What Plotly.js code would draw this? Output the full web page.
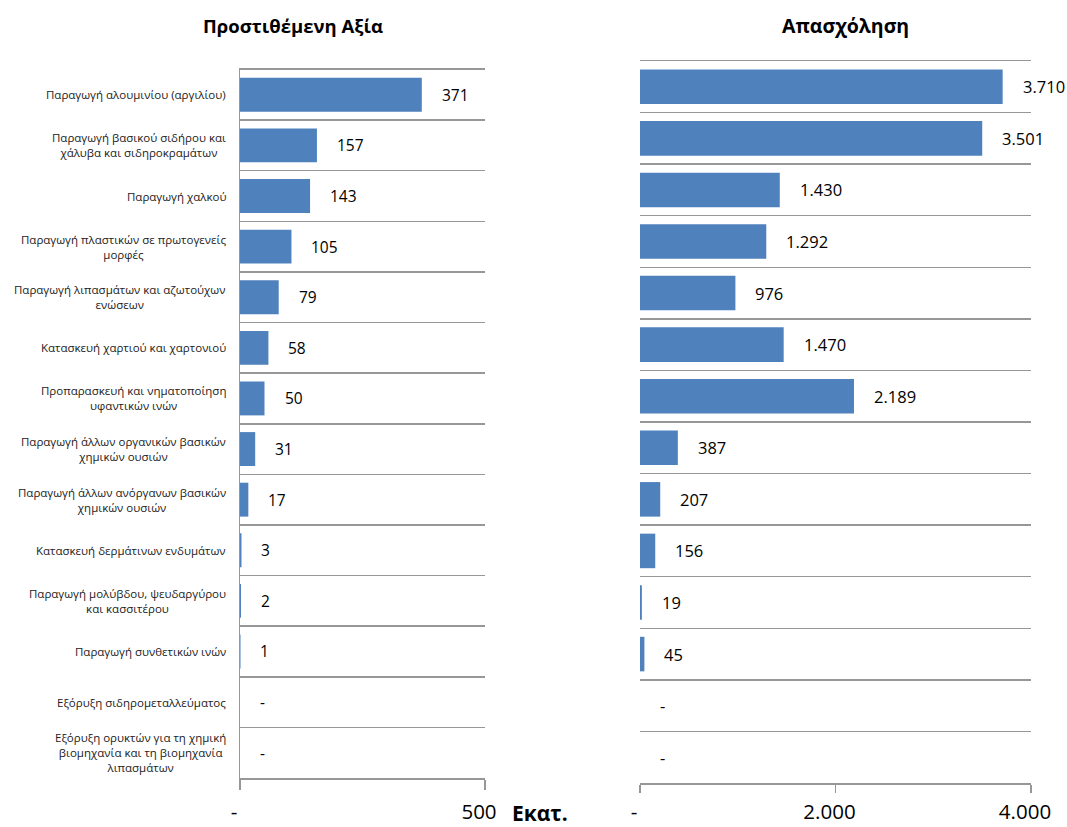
<!DOCTYPE html>
<html>
<head>
<meta charset="utf-8">
<script src="https://cdn.plot.ly/plotly-3.0.1.min.js"></script>
<style>html,body{margin:0;padding:0;background:#fff;}#chart{width:1067px;height:827px;}</style>
</head>
<body>
<div id="chart"></div>
<script>
// ---- data ----
const categories = [
  "Παραγωγή αλουμινίου (αργιλίου)",
  "Παραγωγή βασικού σιδήρου και<br>χάλυβα και σιδηροκραμάτων",
  "Παραγωγή χαλκού",
  "Παραγωγή πλαστικών σε πρωτογενείς<br>μορφές",
  "Παραγωγή λιπασμάτων και αζωτούχων<br>ενώσεων",
  "Κατασκευή χαρτιού και χαρτονιού",
  "Προπαρασκευή και νηματοποίηση<br>υφαντικών ινών",
  "Παραγωγή άλλων οργανικών βασικών<br>χημικών ουσιών",
  "Παραγωγή άλλων ανόργανων βασικών<br>χημικών ουσιών",
  "Κατασκευή δερμάτινων ενδυμάτων",
  "Παραγωγή μολύβδου, ψευδαργύρου<br>και κασσιτέρου",
  "Παραγωγή συνθετικών ινών",
  "Εξόρυξη σιδηρομεταλλεύματος",
  "Εξόρυξη ορυκτών για τη χημική<br>βιομηχανία και τη βιομηχανία<br>λιπασμάτων"
];
const addedValue = [371, 157, 143, 105, 79, 58, 50, 31, 17, 3, 2, 1, 0, 0];
const employment = [3710, 3501, 1430, 1292, 976, 1470, 2189, 387, 207, 156, 19, 45, 0, 0];

const titleLeft = "Προστιθέμενη Αξία";
const titleRight = "Απασχόληση";
const unitLabel = "Εκατ.";

const leftTickVals = [0, 500];
const leftTickText = ["-", "500"];
const rightTickVals = [0, 2000, 4000];
const rightTickText = ["-", "2.000", "4.000"];

// ---- helpers ----
function fmt(v) {
  if (v === 0) return "-";
  return String(v).replace(/\B(?=(\d{3})+(?!\d))/g, ".");
}

const W = 1067, H = 827;
const px = x => x / W;
const py = y => 1 - y / H;

const barColor = "#4F81BD";
const gridColor = "#979797";
const font = "'Open Sans', 'Noto Sans', sans-serif";

const traces = [
  {
    type: "bar", orientation: "h",
    x: addedValue, y: categories,
    xaxis: "x", yaxis: "y",
    marker: { color: barColor, line: { width: 0 } },
    hoverinfo: "skip"
  },
  {
    type: "bar", orientation: "h",
    x: employment, y: categories,
    xaxis: "x2", yaxis: "y2",
    marker: { color: barColor, line: { width: 0 } },
    hoverinfo: "skip"
  }
];

const annotations = [];
// category labels
categories.forEach(c => {
  annotations.push({
    xref: "paper", yref: "y", x: px(228), y: c,
    text: c, showarrow: false, xanchor: "right", yanchor: "middle", align: "center",
    font: { family: font, size: 11.5, color: "#222" }
  });
});
// value labels
addedValue.forEach((v, i) => {
  annotations.push({
    xref: "x", yref: "y", x: v, y: categories[i],
    text: fmt(v), showarrow: false, xanchor: "left", yanchor: "middle", xshift: 18,
    font: { family: font, size: 15.5, color: "#000" }
  });
});
employment.forEach((v, i) => {
  annotations.push({
    xref: "x2", yref: "y2", x: v, y: categories[i],
    text: fmt(v), showarrow: false, xanchor: "left", yanchor: "middle", xshift: 18,
    font: { family: font, size: 16.5, color: "#000" }
  });
});
// titles
annotations.push({
  xref: "paper", yref: "paper", x: px(293), y: py(25), text: "<b>" + titleLeft + "</b>",
  showarrow: false, xanchor: "center", yanchor: "middle",
  font: { family: font, size: 18.5, color: "#000" }
});
annotations.push({
  xref: "paper", yref: "paper", x: px(845), y: py(25), text: "<b>" + titleRight + "</b>",
  showarrow: false, xanchor: "center", yanchor: "middle",
  font: { family: font, size: 19.5, color: "#000" }
});
annotations.push({
  xref: "paper", yref: "paper", x: px(510), y: py(813), text: "<b>" + unitLabel + "</b>",
  showarrow: false, xanchor: "left", yanchor: "middle",
  font: { family: font, size: 21, color: "#000" }
});

const layout = {
  width: W, height: H,
  margin: { l: 0, r: 0, t: 0, b: 0 },
  paper_bgcolor: "#fff", plot_bgcolor: "#fff",
  showlegend: false, hovermode: false,
  bargap: 0.33,
  font: { family: font, color: "#000" },
  xaxis: {
    domain: [px(240), px(485)], range: [0, 500], anchor: "y",
    tickvals: leftTickVals, ticktext: leftTickText,
    showgrid: false, zeroline: false,
    showline: true, mirror: true, linecolor: gridColor, linewidth: 1.5,
    ticks: "outside", ticklen: 10, tickcolor: gridColor, tickwidth: 1.5,
    tickfont: { family: font, size: 20.5, color: "#000" },
    ticklabelstandoff: 5, ticklabelshift: -6, fixedrange: true
  },
  yaxis: {
    domain: [py(778), py(69.5)], anchor: "x",
    type: "category", categoryorder: "array", categoryarray: categories,
    autorange: false, range: [categories.length - 0.5, -0.5],
    showticklabels: false, ticks: "", tickson: "boundaries",
    showgrid: true, gridcolor: gridColor, gridwidth: 1.5,
    showline: true, linecolor: gridColor, linewidth: 1.5,
    zeroline: false, fixedrange: true
  },
  xaxis2: {
    domain: [px(640), px(1031)], range: [0, 4000], anchor: "y2",
    tickvals: rightTickVals, ticktext: rightTickText,
    showgrid: false, zeroline: false,
    showline: true, mirror: true, linecolor: gridColor, linewidth: 1.5,
    ticks: "outside", ticklen: 8, tickcolor: gridColor, tickwidth: 1.5,
    tickfont: { family: font, size: 20.5, color: "#000" },
    ticklabelstandoff: 2, ticklabelshift: -6, fixedrange: true
  },
  yaxis2: {
    domain: [py(783), py(61)], anchor: "x2",
    type: "category", categoryorder: "array", categoryarray: categories,
    autorange: false, range: [categories.length - 0.5, -0.5],
    showticklabels: false, ticks: "", tickson: "boundaries",
    showgrid: true, gridcolor: gridColor, gridwidth: 1.5,
    showline: false, zeroline: false, fixedrange: true
  },
  annotations: annotations
};

Plotly.newPlot("chart", traces, layout, { displayModeBar: false, staticPlot: true });
</script>
</body>
</html>
